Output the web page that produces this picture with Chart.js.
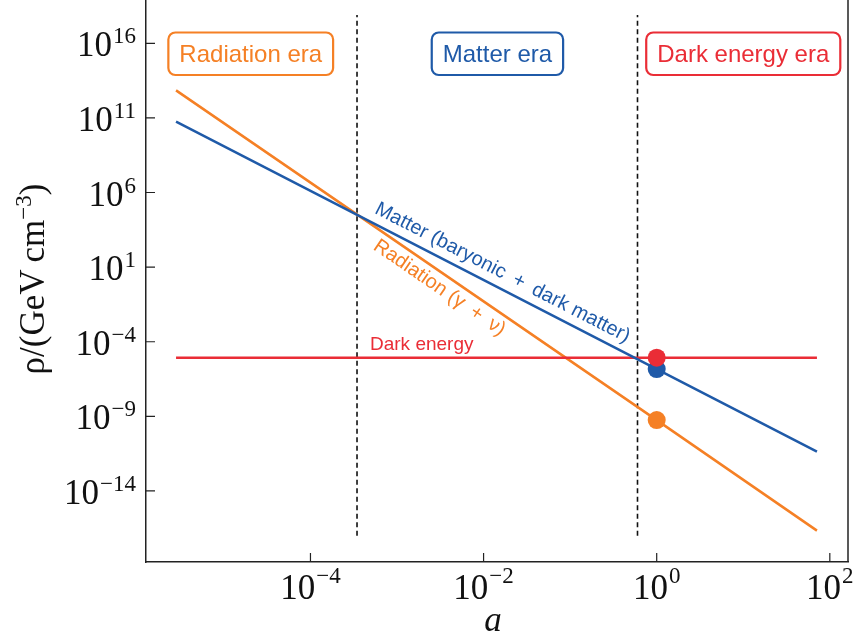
<!DOCTYPE html>
<html>
<head>
<meta charset="utf-8">
<script src="https://cdn.jsdelivr.net/npm/chart.js@4.4.0/dist/chart.umd.min.js"></script>
<style>
  html, body { margin: 0; padding: 0; background: #fff; }
</style>
</head>
<body>
<canvas id="grafDensidad" width="853" height="639"></canvas>
<script>
// densidades en GeV/cm^3 frente al factor de escala a
const escalaA = [2.8e-6, 1, 71]
const materia = [5.6e10, 1.48e-6, 4.3e-12]
const radiacion = [7e12, 5.6e-10, 2.2e-17]
const energiaOscuraA = [2.8e-6, 71]
const energiaOscura = [8.5e-6, 8.5e-6]

// valores de hoy (a = 1)
const hoyA = 1
const hoyEnergiaOscura = 8.5e-6
const hoyMateria = 1.48e-6
const hoyRadiacion = 5.6e-10

// igualdad radiacion-materia y materia-energia oscura
const transiciones = [3.45e-4, 0.6]
const transicionY = [1e-17, 8e17]

const ticksX = [1e-4, 1e-2, 1, 1e2]
const ticksY = [1e-14, 1e-9, 1e-4, 1e1, 1e6, 1e11, 1e16]
const rangoX = [Math.pow(10, -5.9), Math.pow(10, 2.21)]
const rangoY = [Math.pow(10, -18.76), Math.pow(10, 18.9)]

const eras = ['Radiation era', 'Matter era', 'Dark energy era']

const NARANJA = '#f58025'
const AZUL = '#1f5aa8'
const ROJO = '#ea2d36'

function puntos(xs, ys) {
    return xs.map((x, i) => ({ x: x, y: ys[i] }))
}

function punto(color, y, orden) {
    return {
        data: [{ x: hoyA, y: y }],
        backgroundColor: color,
        borderWidth: 0,
        pointRadius: 9,
        pointHoverRadius: 9,
        showLine: false,
        order: orden,
    }
}

function linea(color, data, orden, ancho, guion) {
    return {
        data: data,
        borderColor: color,
        borderWidth: ancho,
        borderDash: guion || [],
        pointRadius: 0,
        showLine: true,
        fill: false,
        order: orden,
    }
}

// "10" con exponente
function potencia(ctx, exp, x, y, alinear, subir) {
    let base = '10'
    let sup = exp < 0 ? '\u2212' + Math.abs(exp) : String(exp)
    ctx.font = '35px "Liberation Serif"'
    let wb = ctx.measureText(base).width
    ctx.font = '23px "Liberation Serif"'
    let ws = ctx.measureText(sup).width
    let total = wb + ws + 1
    let x0 = alinear == 'right' ? x - total : x - total / 2
    ctx.textAlign = 'left'
    ctx.textBaseline = 'alphabetic'
    ctx.font = '35px "Liberation Serif"'
    ctx.fillText(base, x0, y)
    ctx.font = '23px "Liberation Serif"'
    ctx.fillText(sup, x0 + wb + 1, y - subir)
}

// punto y angulo sobre la linea de un dataset
function sobreLinea(chart, indice, valorX) {
    let pts = chart.getDatasetMeta(indice).data
    let xp = chart.scales.x.getPixelForValue(valorX)
    for (let i = 0; i < pts.length - 1; i++) {
        let a = pts[i], b = pts[i + 1]
        if (xp >= a.x && xp <= b.x) {
            let t = (xp - a.x) / (b.x - a.x)
            return { x: xp, y: a.y + t * (b.y - a.y), ang: Math.atan2(b.y - a.y, b.x - a.x) }
        }
    }
    return { x: xp, y: pts[0].y, ang: 0 }
}

function textoSobreLinea(ctx, chart, indice, valorX, separacion, texto, color) {
    let p = sobreLinea(chart, indice, valorX)
    ctx.save()
    ctx.translate(p.x + Math.sin(p.ang) * separacion, p.y - Math.cos(p.ang) * separacion)
    ctx.rotate(p.ang)
    ctx.fillStyle = color
    ctx.font = '20px "Liberation Sans"'
    ctx.textAlign = 'center'
    ctx.textBaseline = 'middle'
    ctx.fillText(texto, 0, 0)
    ctx.restore()
}

const ejesPlugin = {
    id: 'ejes',
    afterDraw(chart) {
        let ctx = chart.ctx
        let area = chart.chartArea
        let ex = chart.scales.x
        let ey = chart.scales.y
        ctx.save()

        // borde derecho
        ctx.strokeStyle = '#222'
        ctx.lineWidth = 1.5
        ctx.beginPath()
        ctx.moveTo(area.right, area.top)
        ctx.lineTo(area.right, area.bottom)
        ctx.stroke()

        // marcas hacia dentro
        ctx.lineWidth = 1.2
        ctx.beginPath()
        ticksX.forEach(v => {
            let px = ex.getPixelForValue(v)
            ctx.moveTo(px, area.bottom)
            ctx.lineTo(px, area.bottom - 9)
        })
        ticksY.forEach(v => {
            let py = ey.getPixelForValue(v)
            ctx.moveTo(area.left, py)
            ctx.lineTo(area.left + 9, py)
        })
        ctx.stroke()

        ctx.fillStyle = '#111'
        ticksX.forEach(v => {
            potencia(ctx, Math.round(Math.log10(v)), ex.getPixelForValue(v), area.bottom + 37, 'center', 16)
        })
        ticksY.forEach(v => {
            potencia(ctx, Math.round(Math.log10(v)), area.left - 10, ey.getPixelForValue(v) + 13, 'right', 13)
        })

        // titulo eje x
        ctx.font = 'italic 35px "Liberation Serif"'
        ctx.textAlign = 'center'
        ctx.fillText('a', (area.left + area.right) / 2 - 4, 631)

        // titulo eje y
        ctx.save()
        ctx.translate(44, 279)
        ctx.rotate(-Math.PI / 2)
        let partes = [['\u03c1/(GeV\u2009cm', '35px', 0], ['\u22123', '23px', 13], [')', '35px', 0]]
        let anchoTotal = 0
        partes.forEach(p => {
            ctx.font = p[1] + ' "Liberation Serif"'
            anchoTotal += ctx.measureText(p[0]).width
        })
        let cx = -anchoTotal / 2
        ctx.textAlign = 'left'
        partes.forEach(p => {
            ctx.font = p[1] + ' "Liberation Serif"'
            ctx.fillText(p[0], cx, -p[2])
            cx += ctx.measureText(p[0]).width
        })
        ctx.restore()

        // etiquetas de las curvas
        textoSobreLinea(ctx, chart, 1, Math.pow(10, -1.86), 15, 'Matter (baryonic\u2002+\u2002dark matter)', AZUL)
        textoSobreLinea(ctx, chart, 2, Math.pow(10, -2.42), -14, 'Radiation (\u03b3\u2002+\u2002\u03bd)', NARANJA)

        let pDE = sobreLinea(chart, 0, Math.pow(10, -3.4))
        ctx.fillStyle = ROJO
        ctx.font = '19px "Liberation Sans"'
        ctx.textAlign = 'left'
        ctx.textBaseline = 'alphabetic'
        ctx.fillText('Dark energy', 370, pDE.y - 8)

        // recuadros de las eras
        let centros = [Math.pow(10, -4.69), Math.pow(10, -1.84), Math.pow(10, 1.0)]
        let colores = [NARANJA, AZUL, ROJO]
        eras.forEach((txt, i) => {
            ctx.font = '24px "Liberation Sans"'
            let w = ctx.measureText(txt).width + 22
            let xc = ex.getPixelForValue(centros[i])
            ctx.fillStyle = '#fff'
            ctx.strokeStyle = colores[i]
            ctx.lineWidth = 2.2
            ctx.beginPath()
            ctx.roundRect(xc - w / 2, 32.5, w, 42.5, 7)
            ctx.fill()
            ctx.stroke()
            ctx.fillStyle = colores[i]
            ctx.textAlign = 'center'
            ctx.textBaseline = 'middle'
            ctx.fillText(txt, xc, 55)
        })

        ctx.restore()
    }
}

let grafDensidad = document.getElementById('grafDensidad')

let grafico = new Chart(grafDensidad, {
    type: 'scatter',
    data: {
        datasets: [
            linea(ROJO, puntos(energiaOscuraA, energiaOscura), 5, 2.5),
            linea(AZUL, puntos(escalaA, materia), 4, 2.5),
            linea(NARANJA, puntos(escalaA, radiacion), 6, 2.5),
            linea('#111', puntos([transiciones[0], transiciones[0]], transicionY), 7, 1.6, [5, 3.5]),
            linea('#111', puntos([transiciones[1], transiciones[1]], transicionY), 7, 1.6, [5, 3.5]),
            punto(ROJO, hoyEnergiaOscura, 0),
            punto(AZUL, hoyMateria, 1),
            punto(NARANJA, hoyRadiacion, 2),
        ]
    },
    options: {
        responsive: false,
        animation: false,
        layout: { autoPadding: false, padding: { top: 0, right: 5, left: 0, bottom: 0 } },
        plugins: {
            legend: { display: false },
            tooltip: { enabled: false },
        },
        scales: {
            x: {
                type: 'logarithmic',
                min: rangoX[0],
                max: rangoX[1],
                grid: { display: false },
                border: { display: true, color: '#222', width: 1.5 },
                ticks: { display: false },
                afterBuildTicks: s => { s.ticks = ticksX.map(v => ({ value: v })) },
                afterFit: s => { s.height = 77 },
            },
            y: {
                type: 'logarithmic',
                min: rangoY[0],
                max: rangoY[1],
                grid: { display: false },
                border: { display: true, color: '#222', width: 1.5 },
                ticks: { display: false },
                afterBuildTicks: s => { s.ticks = ticksY.map(v => ({ value: v })) },
                afterFit: s => { s.width = 146 },
            },
        },
    },
    plugins: [ejesPlugin],
})
</script>
</body>
</html>
